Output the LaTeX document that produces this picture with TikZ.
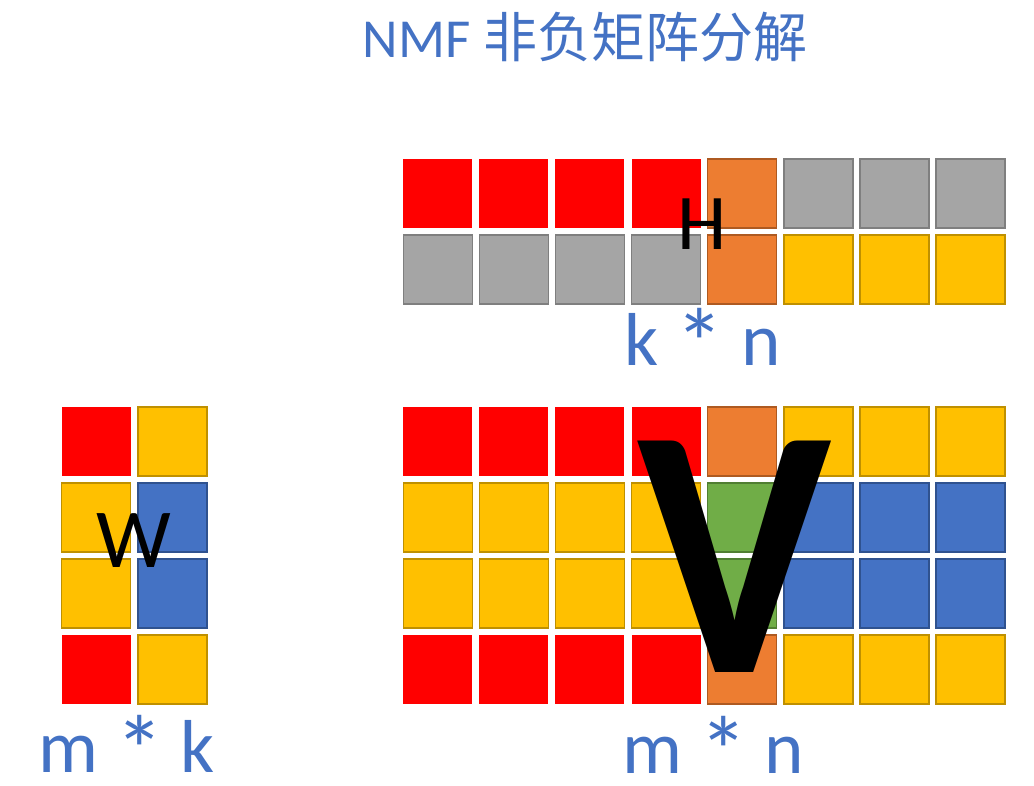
\documentclass[tikz,border=0pt]{standalone}
\usepackage{fontspec}
\usepackage{graphicx}
\setmainfont{Carlito}
\newfontfamily\cjk{Noto Sans CJK SC}
\newcommand{\mulsign}{\raisebox{-0.16em}[0.6em][0pt]{\scalebox{1.3}{*}}}
\definecolor{cRed}{HTML}{FF0000}
\definecolor{cOrange}{HTML}{ED7D31}
\definecolor{cOrangeD}{HTML}{AE5A21}
\definecolor{cGray}{HTML}{A5A5A5}
\definecolor{cGrayD}{HTML}{7F7F7F}
\definecolor{cYellow}{HTML}{FFC000}
\definecolor{cYellowD}{HTML}{BF9000}
\definecolor{cBlue}{HTML}{4472C4}
\definecolor{cBlueD}{HTML}{2F528F}
\definecolor{cGreen}{HTML}{70AD47}
\definecolor{cGreenD}{HTML}{507E32}
\tikzset{
  cell/.style={minimum size=69pt, inner sep=0pt, line width=1.5pt},
  cellR/.style={fill=cRed},
  cellO/.style={fill=cOrange, draw=cOrangeD},
  cellGy/.style={fill=cGray, draw=cGrayD},
  cellY/.style={fill=cYellow, draw=cYellowD},
  cellB/.style={fill=cBlue, draw=cBlueD},
  cellGn/.style={fill=cGreen, draw=cGreenD},
  dimlabel/.style={text=cBlue, anchor=base, inner sep=0pt, font=\fontsize{75}{80}\selectfont},
  letter/.style={anchor=base, inner sep=0pt}
}
\begin{document}
\begin{tikzpicture}[x=1pt,y=-1pt]
        \useasboundingbox (0,0) rectangle (1034,785);
        \node[text=cBlue, anchor=base, inner sep=0pt, font=\fontsize{55}{60}\selectfont] (title) at (585,57) {NMF {\cjk\fontsize{54}{60}\selectfont 非负矩阵分解}};
        % H
        \foreach \row [count=\j from 0] in {{cellR,cellR,cellR,cellR,cellO,cellGy,cellGy,cellGy},{cellGy,cellGy,cellGy,cellGy,cellO,cellY,cellY,cellY}}
            \foreach \s [count=\i from 0] in \row
                \node[cell,\s] (H-\j-\i) at (437.75+76.1*\i,193.5+76*\j) {};
        % V
        \foreach \row [count=\j from 0] in {{cellR,cellR,cellR,cellR,cellO,cellY,cellY,cellY},{cellY,cellY,cellY,cellY,cellGn,cellB,cellB,cellB},{cellY,cellY,cellY,cellY,cellGn,cellB,cellB,cellB},{cellR,cellR,cellR,cellR,cellO,cellY,cellY,cellY}}
            \foreach \s [count=\i from 0] in \row
                \node[cell,\s] (V-\j-\i) at (437.75+76.1*\i,441.5+76*\j) {};
        % W
        \foreach \row [count=\j from 0] in {{cellR,cellY},{cellY,cellB},{cellY,cellB},{cellR,cellY}}
            \foreach \s [count=\i from 0] in \row
                \node[cell,\s] (W-\j-\i) at (96+76.5*\i,441.5+76*\j) {};
        \node[letter, font=\fontsize{79}{80}\selectfont] (Hname) at (702.5,249) {H};
        \node[letter, font=\fontsize{84}{90}\selectfont] (Wname) at (134,567) {W};
        \node[letter, xscale=0.92, font=\bfseries\fontsize{357}{360}\selectfont] (Vname) at (735,672) {V};
        \node[dimlabel] (Hdim) at (702.5,365) {k \mulsign{} n};
        \node[dimlabel] (Vdim) at (713.5,773) {m \mulsign{} n};
        \node[dimlabel] (Wdim) at (126.5,772) {m \mulsign{} k};
    \end{tikzpicture}
\end{document}
